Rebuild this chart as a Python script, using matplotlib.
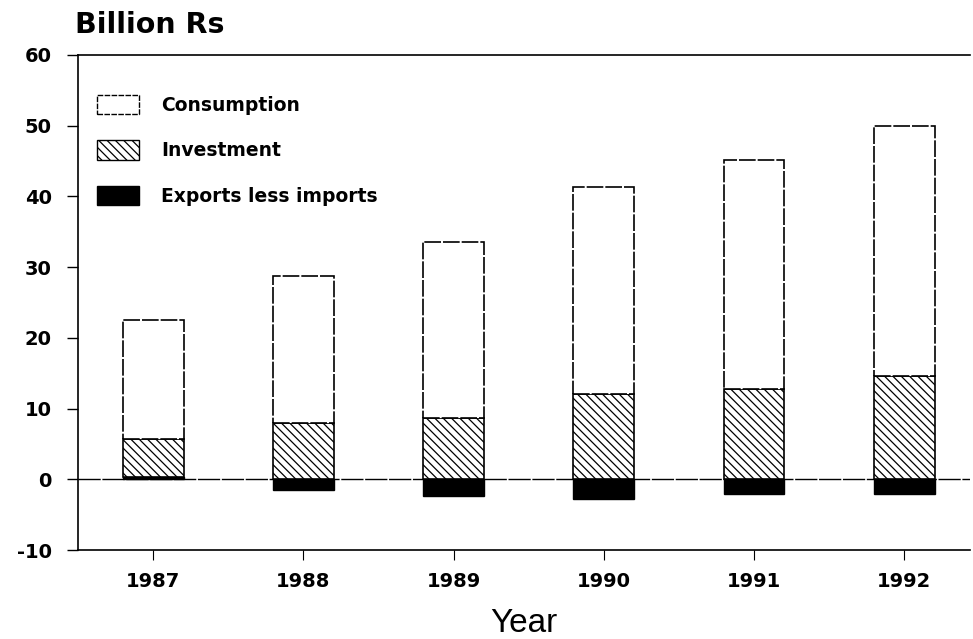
import numpy as np
import matplotlib
matplotlib.use("Agg")
from matplotlib import pyplot as plt
from matplotlib.patches import Patch

# values (billion Rs)
years = ['1987', '1988', '1989', '1990', '1991', '1992']
exports_less_imports = [0.4, -1.5, -2.3, -2.8, -2.1, -2.0]
investment = [5.35, 8.0, 8.7, 12.05, 12.75, 14.6]
consumption = [16.75, 20.7, 24.9, 29.35, 32.35, 35.4]

yticks = [60, 50, 40, 30, 20, 10, 0, -10]

plt.rcParams['font.family'] = ['DejaVu Sans']
plt.rcParams['hatch.linewidth'] = 0.9

fig = plt.figure(figsize=(9.73, 6.39), dpi=100)
ax = fig.add_axes([0.0802, 0.139, 0.917, 0.775])

x = np.arange(len(years))
w = 0.405
exp = np.array(exports_less_imports)
inv = np.array(investment)
con = np.array(consumption)

# positive trade balance sits under investment, negative one hangs below zero
inv_bottom = np.maximum(exp, 0)
con_bottom = inv_bottom + inv

ax.bar(x, exp, w, color='black', edgecolor='black', linewidth=1)
ax.bar(x, inv, w, bottom=inv_bottom, color='white', edgecolor='black',
       hatch='\\\\\\\\', linewidth=1.2)
ax.bar(x, con, w, bottom=con_bottom, color='white', edgecolor='black',
       linewidth=1.2, linestyle=(0, (10, 1.2)))

ax.axhline(0, color='black', linewidth=1, linestyle=(0, (16, 1.2)), zorder=0)

ax.set_xlim(-0.5, 5.44)
ax.set_ylim(-10, 60)
ax.set_yticks(yticks)
ax.set_yticklabels([str(v) for v in yticks])
ax.set_xticks(x)
ax.set_xticklabels(years)

for lab in ax.get_yticklabels() + ax.get_xticklabels():
    lab.set_fontweight('bold')
    lab.set_fontsize(14)
ax.tick_params(axis='y', length=8, width=1, pad=11)
ax.tick_params(axis='x', length=7, width=0.8, pad=9)

ax.spines['right'].set_visible(False)
for s in ['top', 'bottom', 'left']:
    ax.spines[s].set_linewidth(1.2)

ax.set_xlabel('Year', fontsize=24, labelpad=12, family='Liberation Sans')
fig.text(75 / 973, 1 - 33 / 639, 'Billion Rs', fontsize=20.5, fontweight='bold',
         va='baseline', ha='left')

handles = [
    Patch(facecolor='white', edgecolor='black', linestyle=(0, (4, 1)), label='Consumption'),
    Patch(facecolor='white', edgecolor='black', hatch='\\\\\\\\', label='Investment'),
    Patch(facecolor='black', edgecolor='black', label='Exports less imports'),
]
leg = ax.legend(handles=handles, loc='upper left', bbox_to_anchor=(0.021, 0.919),
                frameon=False, borderpad=0, borderaxespad=0,
                handlelength=2.25, handleheight=1.2,
                labelspacing=1.35, handletextpad=1.2,
                prop={'weight': 'bold', 'size': 13.5})

fig.savefig('out.png', dpi=100)
